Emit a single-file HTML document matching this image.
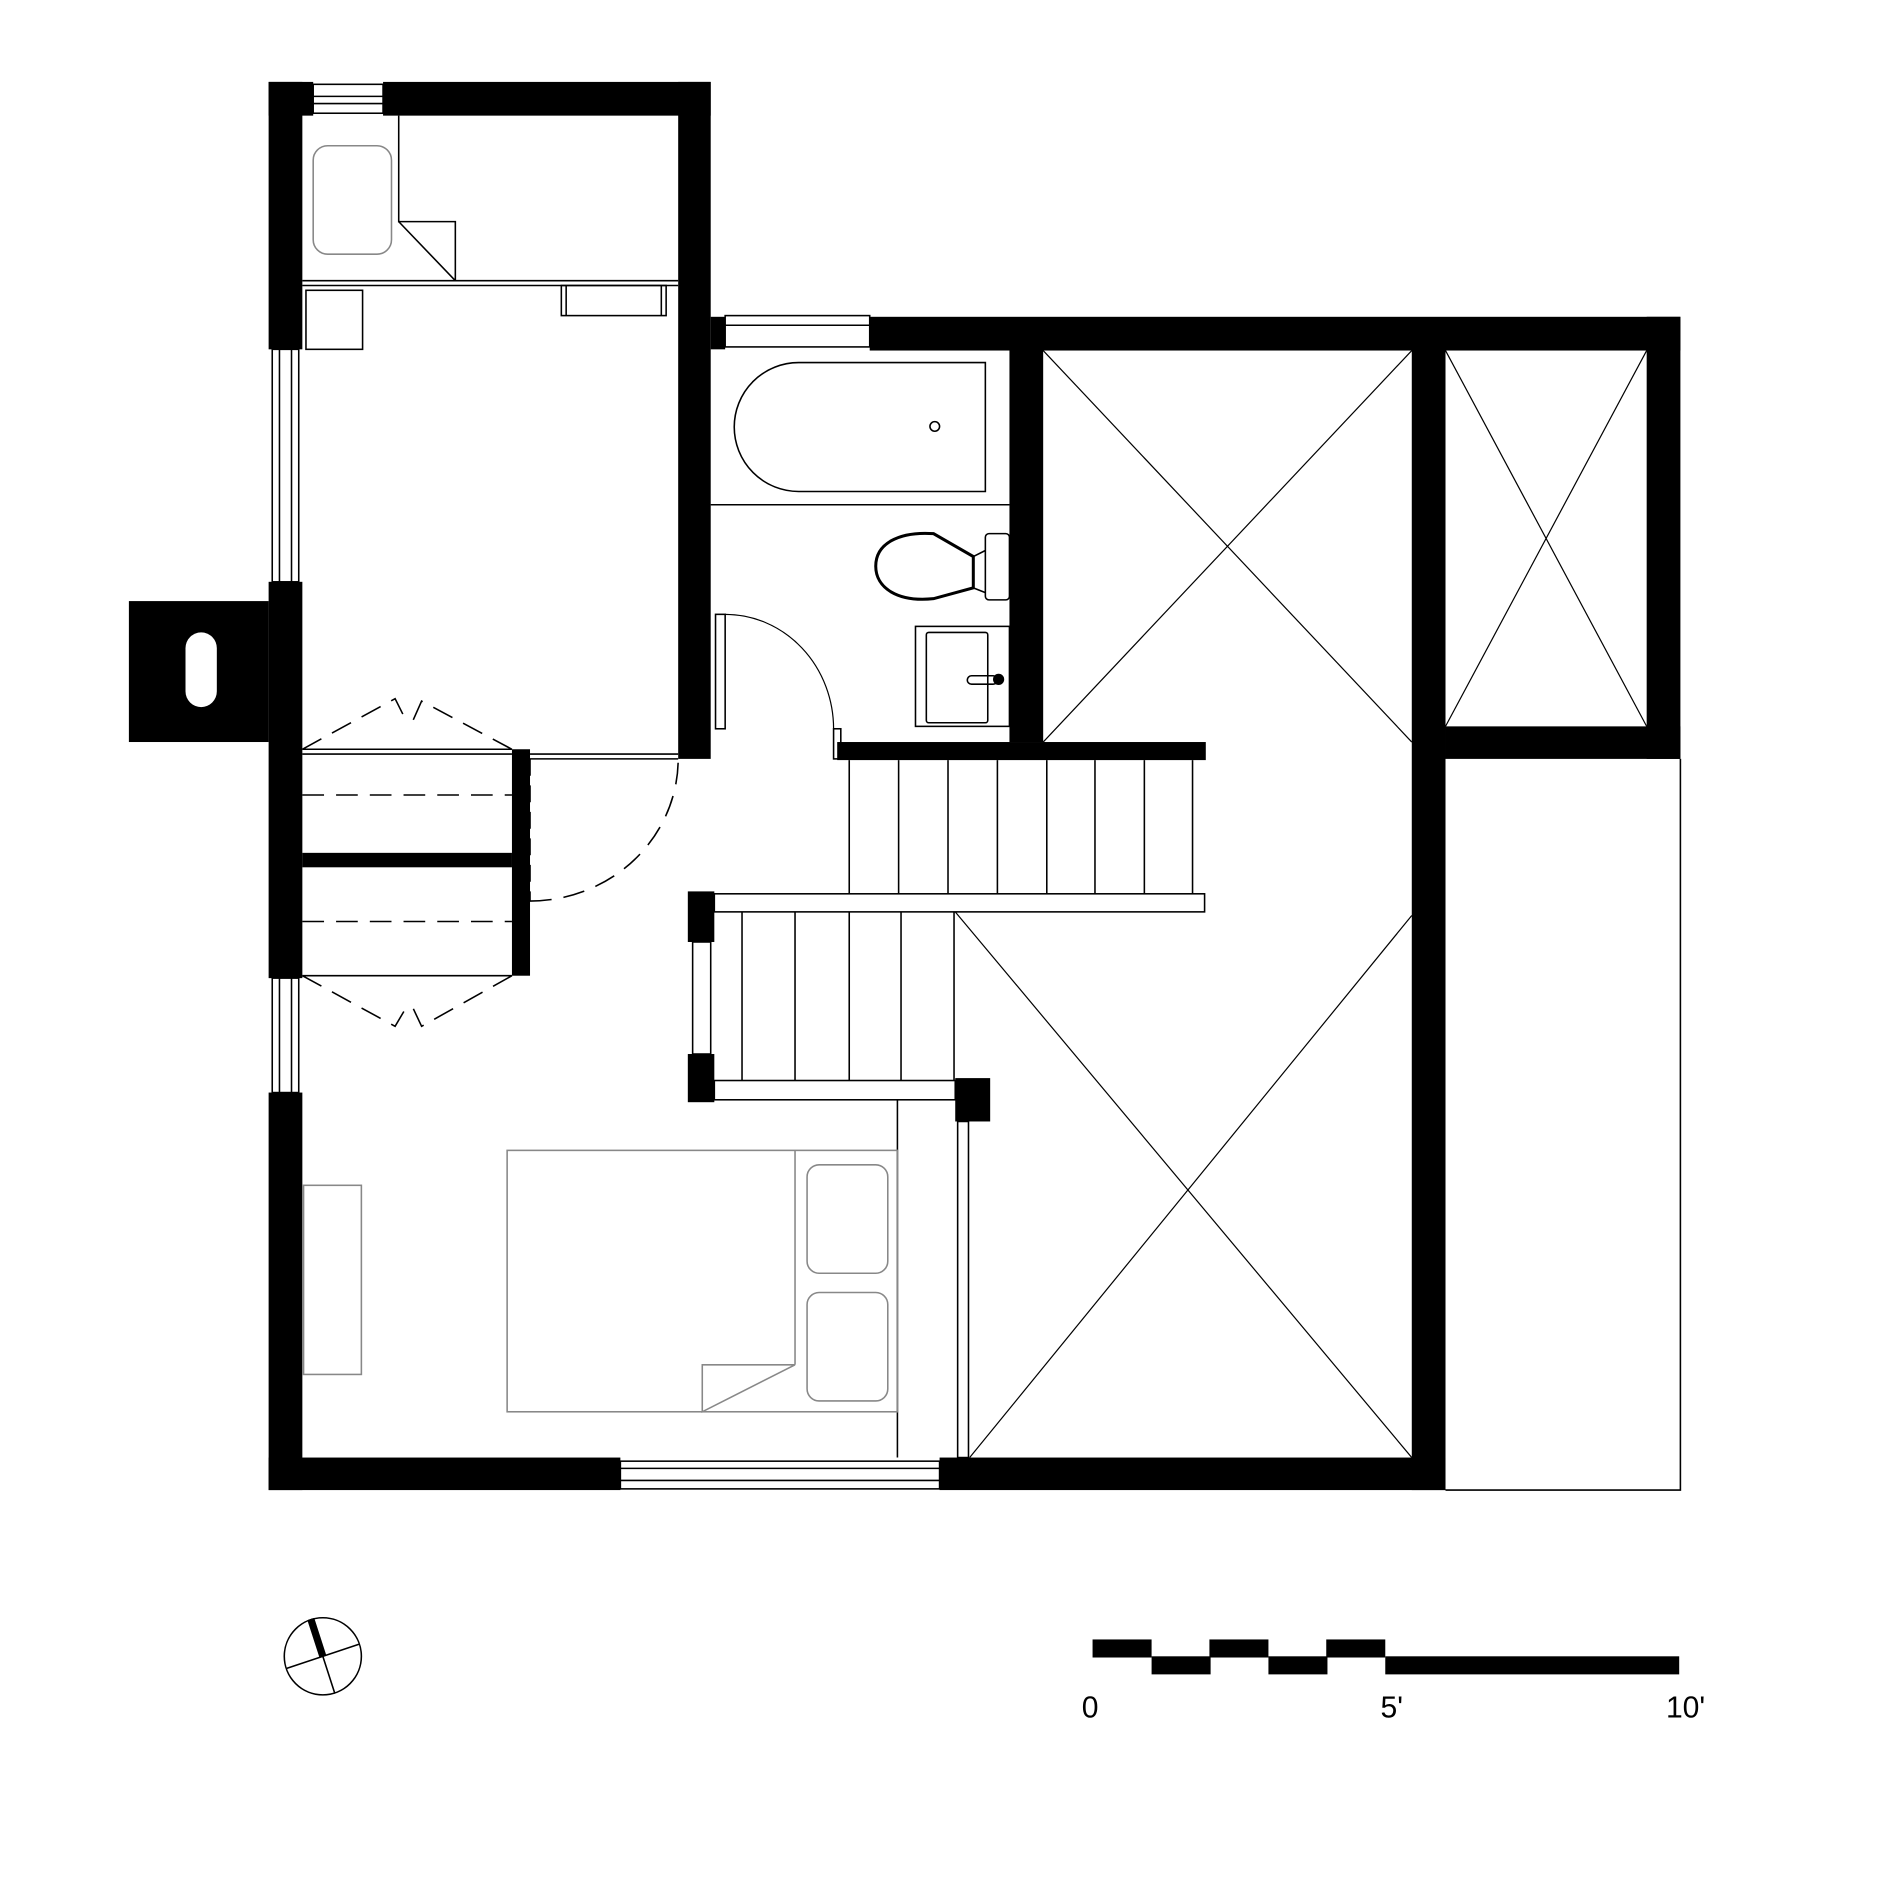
<!DOCTYPE html>
<html><head><style>html,body{margin:0;padding:0;background:#fff}svg{display:block}</style></head>
<body>
<svg width="1890" height="1890" viewBox="0 0 1569 1569" xmlns="http://www.w3.org/2000/svg" font-family="Liberation Sans, sans-serif">
<rect width="1569" height="1569" fill="#fff"/>
<g fill="#000">
<rect x="223" y="68" width="37" height="28"/>
<rect x="318" y="68" width="272" height="28"/>
<rect x="223" y="68" width="28" height="222"/>
<rect x="563" y="68" width="27" height="562"/>
<rect x="223" y="483" width="28" height="329"/>
<rect x="107" y="499" width="116" height="117"/>
<rect x="223" y="907" width="28" height="330"/>
<rect x="223" y="1210" width="292" height="27"/>
<rect x="780" y="1210" width="420" height="27"/>
<rect x="590" y="263" width="12" height="27"/>
<rect x="722" y="263" width="673" height="28"/>
<rect x="838" y="290" width="28" height="326"/>
<rect x="1172" y="290" width="28" height="947"/>
<rect x="1367" y="263" width="28" height="367"/>
<rect x="1200" y="603" width="195" height="27"/>
<rect x="695" y="616" width="306" height="15"/>
<rect x="425" y="622" width="15" height="188"/>
<rect x="251" y="708" width="174" height="12"/>
<rect x="571" y="740" width="22" height="42"/>
<rect x="571" y="875" width="22" height="40"/>
<rect x="793" y="895" width="29" height="36"/>
</g>
<rect x="154" y="525" width="26" height="62" rx="13" fill="#fff"/>
<g fill="none" stroke="#000" stroke-width="1.3">
<rect x="260" y="70" width="58" height="24"/><line x1="260" y1="80" x2="318" y2="80"/><line x1="260" y1="86" x2="318" y2="86"/>
<rect x="226" y="290" width="22" height="193"/><line x1="232" y1="290" x2="232" y2="483"/><line x1="242" y1="290" x2="242" y2="483"/>
<rect x="226" y="812" width="22" height="95"/><line x1="232" y1="812" x2="232" y2="907"/><line x1="242" y1="812" x2="242" y2="907"/>
<rect x="602" y="262" width="120" height="26"/><line x1="602" y1="270" x2="722" y2="270"/>
<rect x="515" y="1213" width="265" height="23"/><line x1="515" y1="1219" x2="780" y2="1219"/><line x1="515" y1="1229" x2="780" y2="1229"/>
<polyline points="1200,1237 1395,1237 1395,630"/>
<rect x="260" y="121" width="65" height="90" rx="12" stroke="#888"/>
<polyline points="331,96 331,184 378,184 378,233" />
<line x1="331" y1="184" x2="378" y2="233"/>
<line x1="251" y1="233" x2="563" y2="233"/><line x1="251" y1="237" x2="563" y2="237"/>
<rect x="254" y="241" width="47" height="49"/>
<rect x="466" y="237" width="87" height="25"/><line x1="470" y1="237" x2="470" y2="262"/><line x1="549" y1="237" x2="549" y2="262"/>
<path d="M663,301 H818 V408 H663 A53,53 0 0 1 663,301 Z"/>
<circle cx="776" cy="354" r="4"/>
<line x1="590" y1="419" x2="838" y2="419"/>
<path d="M808,462 L808,488 L775,497 C745,500 727,488 727,470 C727,452 745,441 775,443 Z" stroke-width="2.5"/>
<line x1="808" y1="462" x2="818" y2="457"/><line x1="808" y1="488" x2="818" y2="492"/>
<rect x="818" y="443" width="20" height="55" rx="3"/>
<rect x="760" y="520" width="78" height="83"/>
<rect x="769" y="525" width="51" height="75" rx="2"/>
<rect x="803" y="561" width="25" height="7" rx="3.5"/>
<circle cx="829" cy="564" r="4" fill="#000"/>
<rect x="594" y="510" width="8" height="95"/>
<path d="M602,510 A90,95 0 0 1 692,605" stroke-width="1"/>
<rect x="692" y="605" width="6" height="25"/>
<rect x="593" y="742" width="407" height="15"/>
<rect x="593" y="897" width="200" height="16"/>
<rect x="575" y="782" width="15" height="93"/>
<line x1="705" y1="631" x2="705" y2="742"/><line x1="746" y1="631" x2="746" y2="742"/><line x1="787" y1="631" x2="787" y2="742"/><line x1="828" y1="631" x2="828" y2="742"/><line x1="869" y1="631" x2="869" y2="742"/><line x1="909" y1="631" x2="909" y2="742"/><line x1="950" y1="631" x2="950" y2="742"/><line x1="990" y1="631" x2="990" y2="742"/>
<line x1="616" y1="757" x2="616" y2="897"/><line x1="660" y1="757" x2="660" y2="897"/><line x1="705" y1="757" x2="705" y2="897"/><line x1="748" y1="757" x2="748" y2="897"/><line x1="792" y1="757" x2="792" y2="897"/>
<line x1="745" y1="913" x2="745" y2="1210"/>
<rect x="795" y="931" width="9" height="279"/>
<line x1="866" y1="616" x2="1172" y2="291" stroke-width="1"/><line x1="866" y1="291" x2="1172" y2="616" stroke-width="1"/>
<line x1="1200" y1="603" x2="1367" y2="291" stroke-width="1"/><line x1="1200" y1="291" x2="1367" y2="603" stroke-width="1"/>
<line x1="793" y1="757" x2="1172" y2="1210" stroke-width="1"/><line x1="805" y1="1210" x2="1172" y2="760" stroke-width="1"/>
<rect x="421" y="955" width="324" height="217" stroke="#888"/>
<line x1="660" y1="955" x2="660" y2="1133" stroke="#888"/>
<polyline points="660,1133 583,1133 583,1172 660,1133" stroke="#888"/>
<rect x="670" y="967" width="67" height="90" rx="10" stroke="#888"/>
<rect x="670" y="1073" width="67" height="90" rx="10" stroke="#888"/>
<rect x="252" y="984" width="48" height="157" stroke="#888"/>
<line x1="251" y1="622" x2="425" y2="622"/><line x1="251" y1="626" x2="425" y2="626"/>
<line x1="440" y1="626" x2="563" y2="626"/><line x1="440" y1="630" x2="563" y2="630"/>
<line x1="251" y1="810" x2="425" y2="810"/>
<g stroke-dasharray="18,10">
<line x1="251" y1="660" x2="425" y2="660"/>
<line x1="251" y1="765" x2="425" y2="765"/>
<polyline points="251,622 328,580 338,600"/><polyline points="425,622 350,582 342,600"/>
<polyline points="251,810 328,852 338,835"/><polyline points="425,810 350,852 342,835"/>
<path d="M440,748 A123,118 0 0 0 563,630"/>
</g>
<circle cx="268" cy="1375" r="32"/>
<line x1="238" y1="1385" x2="298" y2="1365"/><line x1="258" y1="1344" x2="278" y2="1406"/>
</g>
<line x1="258" y1="1344" x2="268" y2="1375" stroke="#000" stroke-width="6"/>
<line x1="440" y1="630" x2="440" y2="748" stroke="#000" stroke-width="1.3" stroke-dasharray="14,8"/>
<g fill="#000">
<rect x="907" y="1361" width="49" height="15"/>
<rect x="956" y="1375" width="49" height="15"/>
<rect x="1004" y="1361" width="49" height="15"/>
<rect x="1053" y="1375" width="49" height="15"/>
<rect x="1101" y="1361" width="49" height="15"/>
<rect x="1150" y="1375" width="244" height="15"/>
</g>
<g font-size="25" fill="#000">
<text x="898" y="1426">0</text>
<text x="1146" y="1426">5'</text>
<text x="1383" y="1426">10'</text>
</g>
</svg>
</body></html>
